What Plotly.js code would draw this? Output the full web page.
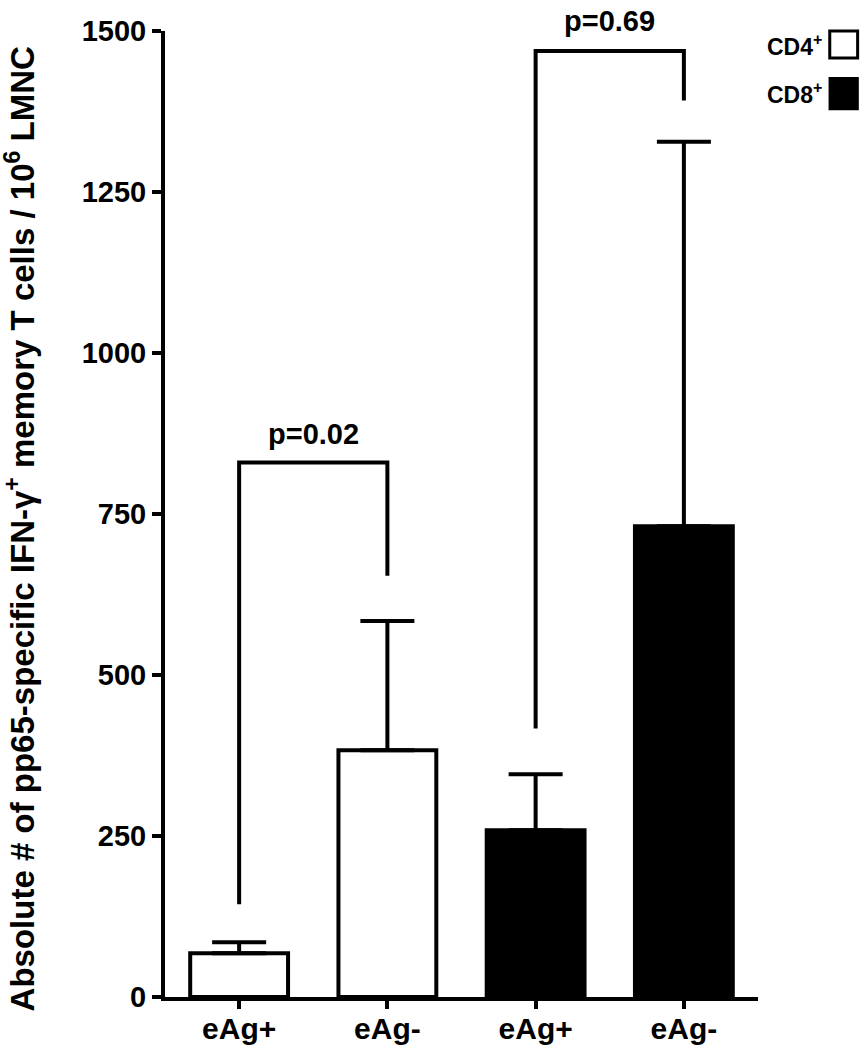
<!DOCTYPE html>
<html>
<head>
<meta charset="utf-8">
<script src="https://cdn.plot.ly/plotly-3.0.1.min.js"></script>
<style>html,body{margin:0;padding:0;background:#fff;}#chart{width:864px;height:1050px;}</style>
</head>
<body>
<div id="chart"></div>
<script>
// ---- data ----
const tickLabels = ["eAg+", "eAg-", "eAg+", "eAg-"];
const cd4X = [0, 1];
const cd4Values = [68, 383];
const cd4ErrUp = [17, 201];
const cd8X = [2, 3];
const cd8Values = [259, 731];
const cd8ErrUp = [87, 597];
const yTicks = [0, 250, 500, 750, 1000, 1250, 1500];
const bracket1X = [0, 0, 1, 1];
const bracket1Y = [144, 830, 830, 654];
const bracket1Label = "p=0.02";
const bracket2X = [2, 2, 3, 3];
const bracket2Y = [417, 1469, 1469, 1392];
const bracket2Label = "p=0.69";
const seriesNames = ["CD4<sup>+</sup>", "CD8<sup>+</sup>"];
const yTitle = "Absolute # of pp65-specific IFN-γ<sup>+</sup> memory T cells / 10<sup>6</sup> LMNC";

const FONT = "Liberation Sans, Arial, Helvetica, sans-serif";
const BW = 0.66;

const traces = [
  {
    type: "bar", x: cd4X, y: cd4Values, width: BW, name: seriesNames[0],
    marker: {color: "#ffffff", line: {color: "#000", width: 4}},
    error_y: {type: "data", symmetric: false, array: cd4ErrUp, arrayminus: [0, 0],
              color: "#000", thickness: 4, width: 27},
    hoverinfo: "skip"
  },
  {
    type: "bar", x: cd8X, y: cd8Values, width: BW, name: seriesNames[1],
    marker: {color: "#000000", line: {color: "#000", width: 4}},
    error_y: {type: "data", symmetric: false, array: cd8ErrUp, arrayminus: [0, 0],
              color: "#000", thickness: 4, width: 27},
    hoverinfo: "skip"
  },
  {
    type: "scatter", mode: "lines", x: bracket1X, y: bracket1Y,
    line: {color: "#000", width: 4}, cliponaxis: false, hoverinfo: "skip"
  },
  {
    type: "scatter", mode: "lines", x: bracket2X, y: bracket2Y,
    line: {color: "#000", width: 4}, cliponaxis: false, hoverinfo: "skip"
  }
];

const layout = {
  width: 864, height: 1050,
  margin: {l: 165, r: 106, t: 31, b: 53, pad: 0},
  paper_bgcolor: "#fff", plot_bgcolor: "#fff",
  showlegend: false,
  barmode: "overlay",
  font: {family: FONT, color: "#000", size: 28, weight: "bold"},
  xaxis: {
    range: [-0.5, 3.5], tickvals: [0, 1, 2, 3], ticktext: tickLabels,
    showline: true, linewidth: 4, linecolor: "#000", mirror: false,
    ticks: "outside", ticklen: 8, tickwidth: 4, tickcolor: "#000",
    ticklabelstandoff: -6,
    showgrid: false, zeroline: false, fixedrange: true,
    tickfont: {family: FONT, size: 30, weight: "bold", color: "#000"}
  },
  yaxis: {
    range: [0, 1500], tickvals: yTicks,
    showline: true, linewidth: 4, linecolor: "#000",
    ticks: "outside", ticklen: 9, tickwidth: 4, tickcolor: "#000",
    showgrid: false, zeroline: false, fixedrange: true,
    tickfont: {family: FONT, size: 29, weight: "bold", color: "#000"}
  },
  annotations: [
    {xref: "paper", yref: "paper", x: -0.243, y: 0.485, text: yTitle, textangle: -90,
     showarrow: false, xanchor: "center", yanchor: "middle",
     font: {family: FONT, size: 33, weight: "bold", color: "#000"}},
    {xref: "x", yref: "y", x: (bracket1X[0] + bracket1X[3]) / 2, y: bracket1Y[1],
     yshift: 10, text: bracket1Label, showarrow: false, yanchor: "bottom",
     font: {family: FONT, size: 29, weight: "bold", color: "#000"}},
    {xref: "x", yref: "y", x: (bracket2X[0] + bracket2X[3]) / 2, y: bracket2Y[1],
     yshift: 12, text: bracket2Label, showarrow: false, yanchor: "bottom",
     font: {family: FONT, size: 29, weight: "bold", color: "#000"}},
    {xref: "paper", yref: "paper", x: 1.111, y: 0.9855, text: seriesNames[0],
     showarrow: false, xanchor: "right", yanchor: "middle",
     font: {family: FONT, size: 23, weight: "bold", color: "#000"}},
    {xref: "paper", yref: "paper", x: 1.111, y: 0.936, text: seriesNames[1],
     showarrow: false, xanchor: "right", yanchor: "middle",
     font: {family: FONT, size: 23, weight: "bold", color: "#000"}}
  ],
  shapes: [
    {type: "rect", xref: "paper", yref: "paper", x0: 1.121, x1: 1.168, y0: 0.972, y1: 1.0,
     fillcolor: "#fff", line: {color: "#000", width: 3}},
    {type: "rect", xref: "paper", yref: "paper", x0: 1.119, x1: 1.170, y0: 0.918, y1: 0.9525,
     fillcolor: "#000", line: {color: "#000", width: 0}}
  ]
};

Plotly.newPlot("chart", traces, layout, {displayModeBar: false, staticPlot: true});
</script>
</body>
</html>
